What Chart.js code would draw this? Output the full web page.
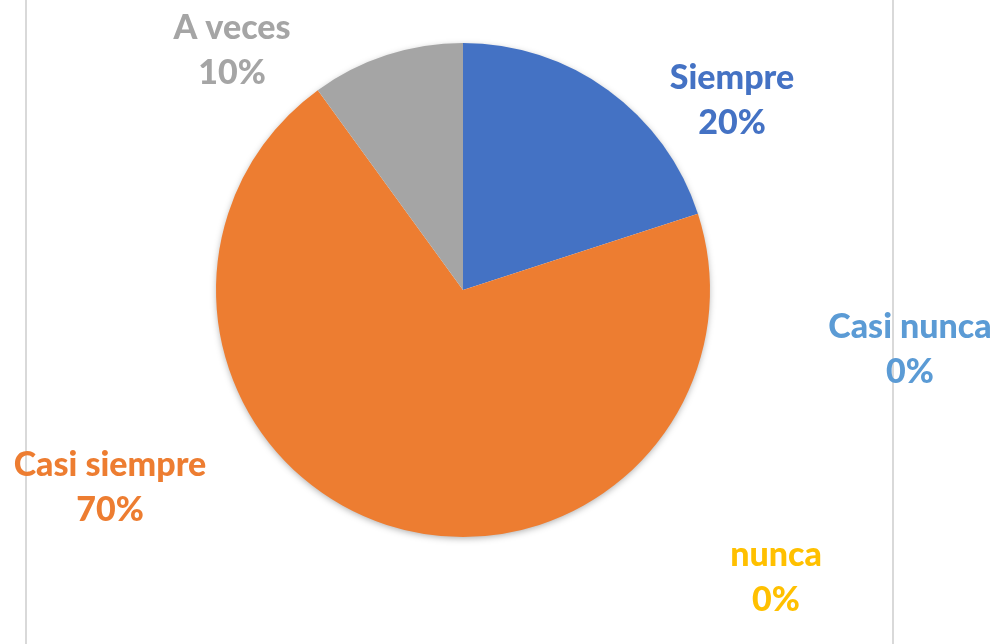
<!DOCTYPE html>
<html>
<head>
<meta charset="utf-8">
<script src="https://cdn.jsdelivr.net/npm/chart.js@4"></script>
<style>
  html, body { margin: 0; padding: 0; background: #fff; }
  #wrap { width: 997px; height: 644px; position: relative; }
</style>
</head>
<body>
<div id="wrap"><canvas id="pie"></canvas></div>
<script>
// data, in slice order (clockwise from the top)
const categories = ["Siempre", "Casi siempre", "A veces", "nunca", "Casi nunca"];
const percents = [20, 70, 10, 0, 0];
const colors = ["#4472C4", "#ED7D31", "#A5A5A5", "#FFC000", "#5B9BD5"];

// where each label sits, relative to the pie centre (Excel moved the 0% ones by hand)
const labelOffsets = [
  [269, -190], [-353, 197], [-231, -240], [313, 287], [447, 59]
];

const decor = {
  id: "decor",
  beforeDatasetsDraw(chart) {
    const ctx = chart.ctx;
    // light frame lines left and right
    ctx.save();
    ctx.strokeStyle = "#d9d9d9";
    ctx.lineWidth = 2;
    [26, 893].forEach(x => {
      ctx.beginPath();
      ctx.moveTo(x, 0);
      ctx.lineTo(x, chart.height);
      ctx.stroke();
    });
    // soft shadow under the pie
    const arc = chart.getDatasetMeta(0).data[0];
    ctx.shadowColor = "rgba(0,0,0,0.35)";
    ctx.shadowBlur = 7;
    ctx.shadowOffsetY = 2;
    ctx.fillStyle = "#fff";
    ctx.beginPath();
    ctx.arc(arc.x, arc.y, arc.outerRadius - 1, 0, Math.PI * 2);
    ctx.fill();
    ctx.restore();
  },
  afterDatasetsDraw(chart) {
    const ctx = chart.ctx;
    const arc = chart.getDatasetMeta(0).data[0];
    ctx.save();
    ctx.font = "900 34px Lato";
    ctx.textAlign = "center";
    ctx.textBaseline = "middle";
    categories.forEach((name, i) => {
      const x = arc.x + labelOffsets[i][0];
      const y = arc.y + labelOffsets[i][1];
      ctx.fillStyle = colors[i];
      ctx.fillText(name, x, y - 22);
      ctx.fillText(percents[i] + "%", x, y + 23);
    });
    ctx.restore();
  }
};

new Chart(document.getElementById("pie"), {
  type: "pie",
  data: {
    labels: categories,
    datasets: [{
      data: percents,
      backgroundColor: colors,
      borderWidth: 0
    }]
  },
  options: {
    responsive: true,
    maintainAspectRatio: false,
    animation: false,
    layout: { padding: { top: 43, bottom: 107, left: 216, right: 287 } },
    plugins: {
      legend: { display: false },
      tooltip: { enabled: false }
    }
  },
  plugins: [decor]
});
</script>
</body>
</html>
